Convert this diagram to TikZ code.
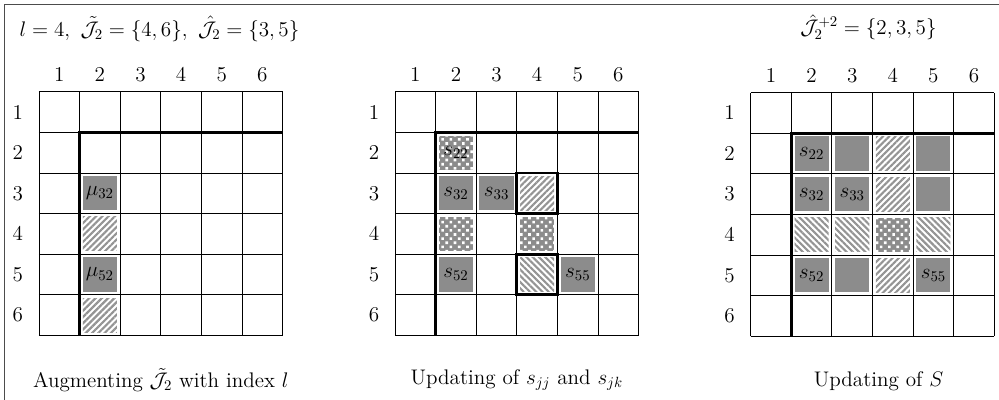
\documentclass[tikz,border=0pt]{standalone}
\usepackage{fix-cm}
\usetikzlibrary{patterns.meta}

\tikzset{
  cellgrid/.style={line width=0.6pt},
  blockline/.style={line width=1.9pt},
  idx/.style={inner sep=1pt},
  solidcell/.style={fill=black!45},
  nehatch/.style={pattern={Lines[angle=45,distance=3.1pt,line width=1.5pt]}, pattern color=black!42},
  nwhatch/.style={pattern={Lines[angle=-45,distance=3.1pt,line width=1.5pt]}, pattern color=black!42},
  dotback/.style={fill=black!45},
  dotfront/.style={pattern={Dots[distance=4.1pt,radius=1.3pt,angle=45]}, pattern color=white},
}

% grid with indices and the thick corner
\newcommand{\panelgrid}[1]{%
  \draw[cellgrid] (0,0) grid (6,-6);
  \foreach \k in {1,...,6} {
    \node[idx] (#1col\k) at (\k-0.5,0.42) {\k};
    \node[idx] (#1row\k) at (-0.52,-\k+0.5) {\k};
  }
  \draw[blockline] (1,-6) -- (1,-1) -- (6,-1);
}
% one inset cell: style, column, row
\newcommand{\cellbox}[3]{\path[#1] (#2-0.92,-#3+0.92) rectangle (#2-0.08,-#3+0.08);}
\newcommand{\dotbox}[2]{\cellbox{dotback}{#1}{#2}\cellbox{dotfront}{#1}{#2}}

\begin{document}
\begin{tikzpicture}[font=\fontsize{14.8}{18}\selectfont]
  \useasboundingbox (0,0) rectangle (24.606,-9.852);

  % frame
  \draw[black!70, line width=0.6pt] (0.1,-9.852) -- (0.1,-0.1) -- (24.606,-0.1);

  % panel 1
  \begin{scope}[shift={(0.96,-2.26)}]
    \cellbox{solidcell}{2}{3}
    \cellbox{nehatch}{2}{4}
    \cellbox{solidcell}{2}{5}
    \cellbox{nehatch}{2}{6}
    \panelgrid{a}
    \node (amu32) at (1.5,-2.5) {$\mu_{32}$};
    \node (amu52) at (1.5,-4.5) {$\mu_{52}$};
    \node[anchor=west] (ahead) at (-0.6,1.55)
      {$l=4,\ \tilde{\mathcal{J}}_2=\{4,6\},\ \hat{\mathcal{J}}_2=\{3,5\}$};
    \node (acap) at (3,-7.1) {Augmenting $\tilde{\mathcal{J}}_2$ with index $l$};
  \end{scope}

  % panel 2
  \begin{scope}[shift={(9.73,-2.26)}]
    \dotbox{2}{2}
    \cellbox{solidcell}{2}{3}
    \cellbox{solidcell}{3}{3}
    \cellbox{nehatch}{4}{3}
    \dotbox{2}{4}
    \dotbox{4}{4}
    \cellbox{solidcell}{2}{5}
    \cellbox{nwhatch}{4}{5}
    \cellbox{solidcell}{5}{5}
    \panelgrid{b}
    \draw[blockline] (3,-2) rectangle (4,-3);
    \draw[blockline] (3,-4) rectangle (4,-5);
    \node (bs22) at (1.5,-1.5) {$s_{22}$};
    \node (bs32) at (1.5,-2.5) {$s_{32}$};
    \node (bs33) at (2.5,-2.5) {$s_{33}$};
    \node (bs52) at (1.5,-4.5) {$s_{52}$};
    \node (bs55) at (4.5,-4.5) {$s_{55}$};
    \node (bcap) at (3,-7.1) {Updating of $s_{jj}$ and $s_{jk}$};
  \end{scope}

  % panel 3
  \begin{scope}[shift={(18.49,-2.28)}]
    \foreach \c in {2,3,5} {
      \cellbox{solidcell}{\c}{2}
      \cellbox{solidcell}{\c}{5}
    }
    \foreach \c in {2,3,5} \cellbox{nwhatch}{\c}{4};
    \foreach \r in {2,3,5} \cellbox{nehatch}{4}{\r};
    \cellbox{solidcell}{2}{3}
    \cellbox{solidcell}{3}{3}
    \cellbox{solidcell}{5}{3}
    \dotbox{4}{4}
    \panelgrid{c}
    \node (cs22) at (1.5,-1.5) {$s_{22}$};
    \node (cs32) at (1.5,-2.5) {$s_{32}$};
    \node (cs33) at (2.5,-2.5) {$s_{33}$};
    \node (cs52) at (1.5,-4.5) {$s_{52}$};
    \node (cs55) at (4.5,-4.5) {$s_{55}$};
    \node (chead) at (2.9,1.6) {$\hat{\mathcal{J}}_2^{+2}=\{2,3,5\}$};
    \node (ccap) at (3.15,-7.1) {Updating of $S$};
  \end{scope}
\end{tikzpicture}
\end{document}
